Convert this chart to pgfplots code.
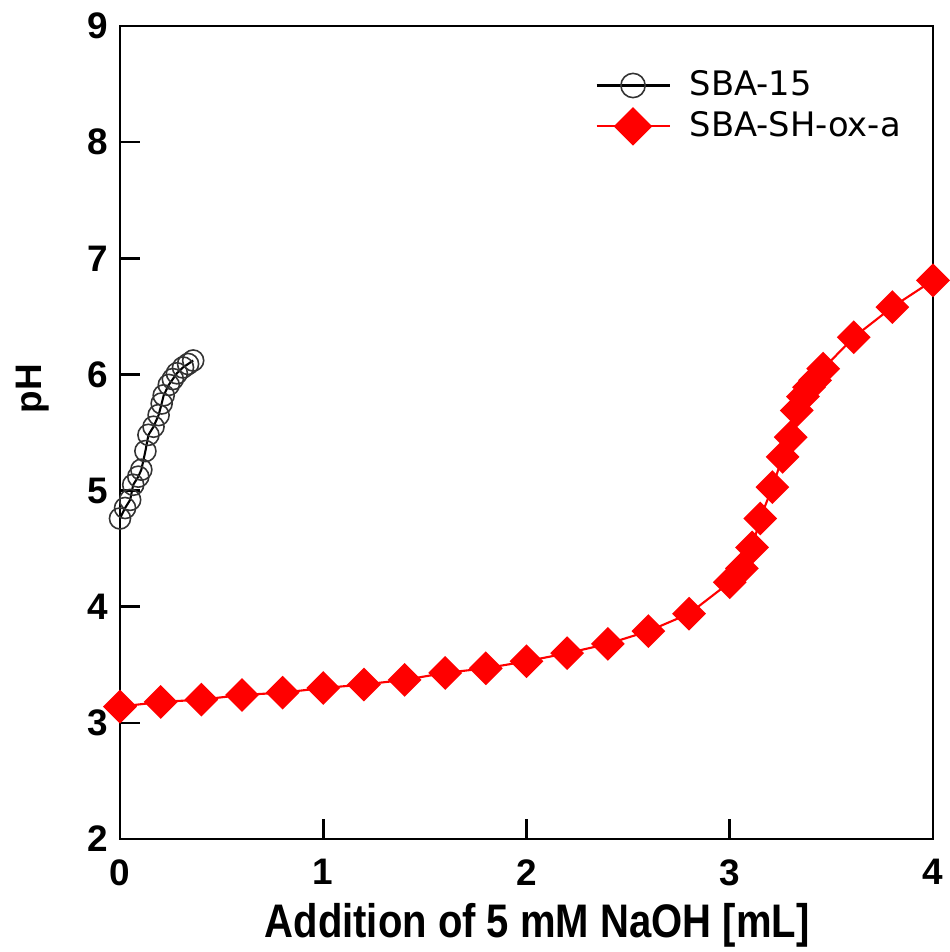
\documentclass[border=0pt]{standalone}
\usepackage{fontspec}
\setmainfont{Liberation Sans}
\newfontfamily\legfont{DejaVu Sans}
\newfontfamily\condfont[FakeStretch=0.85]{Liberation Sans}
\usepackage{pgfplots}
\pgfplotsset{compat=1.18}

\begin{document}
\begin{tikzpicture}
\useasboundingbox (-1.20cm,-1.13cm) rectangle (8.30cm,8.39cm);
\begin{axis}[
  width=8.13cm,height=8.13cm,scale only axis,
  xmin=0,xmax=4,ymin=2,ymax=9,
  xtick={0,1,2,3,4},ytick={2,3,4,5,6,7,8,9},
  tick pos=left,tick align=inside,
  major tick length=0.2cm,minor tick num=0,
  axis line style={line width=0.75pt},
  tick style={line width=0.75pt,black},
  /pgf/number format/assume math mode=true,
  ticklabel style={font=\fontsize{10.5}{12}\selectfont\bfseries},
  xticklabel style={yshift=-0.08cm},
  xlabel={Addition of 5 mM NaOH [mL]},
  ylabel={pH},
  xlabel style={font=\condfont\fontsize{13.4}{16}\selectfont\bfseries,at={(axis description cs:0.513,-0.106)},anchor=center},
  ylabel style={font=\fontsize{10.5}{13}\selectfont\bfseries,at={(axis description cs:-0.108,0.554)},anchor=center},
  clip=false,
  legend style={draw=none,fill=none,at={(0.584,0.955)},anchor=north west,
    font=\legfont\fontsize{9.6}{11.5}\selectfont,row sep=-1pt,inner sep=0pt,
    /tikz/every odd column/.append style={column sep=0.12cm}},
  legend cell align=left,
  legend image code/.code={\draw[mark repeat=2,mark phase=2,every mark/.append style={scale=1.15},#1] plot coordinates {(0cm,0cm) (0.365cm,0cm) (0.73cm,0cm)};},
]
\addplot[black,line width=0.6pt,mark=o,mark size=3pt,
  mark options={draw=black!80,line width=0.45pt}] coordinates {
  (0.000,4.76) (0.025,4.85) (0.050,4.92) (0.065,5.05) (0.090,5.12)
  (0.105,5.18) (0.125,5.34) (0.140,5.48) (0.165,5.55) (0.190,5.65)
  (0.205,5.75) (0.215,5.82) (0.240,5.91) (0.260,5.96) (0.280,6.01)
  (0.310,6.06) (0.335,6.09) (0.360,6.12)};
\addlegendentry{SBA-15}
\addplot[red,line width=0.6pt,mark=square*,mark size=3.1pt,
  mark options={fill=red,draw=red,rotate=45}] coordinates {
  (0.0,3.14) (0.2,3.18) (0.4,3.20) (0.6,3.24) (0.8,3.26)
  (1.0,3.30) (1.2,3.33) (1.4,3.37) (1.6,3.43) (1.8,3.47)
  (2.0,3.53) (2.2,3.60) (2.4,3.68) (2.6,3.79) (2.8,3.94)
  (3.00,4.21) (3.06,4.33) (3.11,4.51) (3.15,4.76) (3.21,5.03)
  (3.26,5.29) (3.30,5.46) (3.33,5.69) (3.36,5.81) (3.39,5.89)
  (3.42,5.95) (3.46,6.05) (3.61,6.32) (3.80,6.58) (4.00,6.81)};
\addlegendentry{SBA-SH-ox-a}
\end{axis}
\end{tikzpicture}
\end{document}
